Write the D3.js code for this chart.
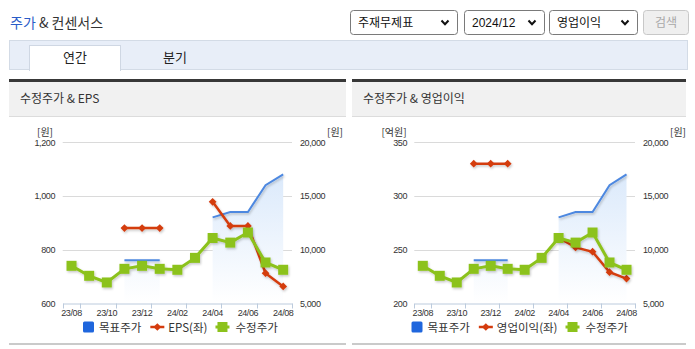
<!DOCTYPE html>
<html><head><meta charset="utf-8">
<script src="https://cdn.jsdelivr.net/npm/d3@7"></script>
<style>
html,body{margin:0;padding:0;background:#fff;}
svg{display:block;}
</style></head>
<body>
<svg id="c" width="695" height="349"></svg>
<script>
// ---- data ----
const months = ['23/08','23/09','23/10','23/11','23/12','24/01','24/02','24/03','24/04','24/05','24/06','24/07','24/08'];
const adjPrice = [8490, 7560, 6940, 8210, 8490, 8210, 8120, 9230, 11080, 10650, 11590, 8800, 8120];
const targetPrice = [null, null, null, 9000, 9000, 9000, null, null, 13000, 13500, 13500, 16000, 17000];
const eps = [null, null, null, 880, 880, 880, null, null, 978, 888, 888, 712, 663];
const opProfit = [null, null, null, 330, 330, 330, null, null, 261, 252, 248, 229, 223];
const epsTicks = [600, 800, 1000, 1200];
const opTicks = [200, 250, 300, 350];
const priceTicks = [5000, 10000, 15000, 20000];
const xTickLabels = ['23/08','23/10','23/12','24/02','24/04','24/06','24/08'];

const KR = '"Noto Sans CJK KR", "Noto Sans", sans-serif';
const NUM = '"Liberation Sans", Arial, sans-serif';
const C_BLUE = '#4d88e0', C_BLUE_SQ = '#1f66dd', C_RED = '#d43c0e', C_GREEN = '#8cc21c';

const svg = d3.select('#c');
const defs = svg.append('defs');

const grad = defs.append('linearGradient').attr('id', 'tpArea')
  .attr('gradientUnits', 'userSpaceOnUse').attr('x1', 0).attr('x2', 0).attr('y1', 142).attr('y2', 303);
grad.append('stop').attr('offset', 0).attr('stop-color', '#d2e4fa');
grad.append('stop').attr('offset', 1).attr('stop-color', '#ffffff');

const sh = defs.append('filter').attr('id', 'shadow').attr('x', '-10%').attr('y', '-10%').attr('width', '130%').attr('height', '140%');
sh.append('feDropShadow').attr('dx', 1).attr('dy', 1.5).attr('stdDeviation', 1).attr('flood-color', '#000').attr('flood-opacity', 0.22);

// red point marker: a small diamond (square turned 45 degrees)
const diamond = d3.symbol(d3.symbolSquare, 30);

// ---- page title ----
const title = svg.append('text').attr('x', 10).attr('y', 28).style('font-family', KR).style('font-size', '14px');
title.append('tspan').attr('fill', '#2a5cc8').text('주가');
title.append('tspan').attr('fill', '#333').text(' & 컨센서스');

// ---- select boxes ----
function selectBox(x, w, label, disabled) {
  const g = svg.append('g');
  g.append('rect').attr('x', x + 0.5).attr('y', 10.5).attr('width', w).attr('height', 24).attr('rx', 3)
    .attr('fill', disabled ? '#efefef' : '#fff').attr('stroke', disabled ? '#c8c8c8' : '#7a7a7a');
  if (disabled) {
    g.append('text').attr('x', x + w / 2 + 0.5).attr('y', 27).attr('text-anchor', 'middle')
      .style('font-family', KR).style('font-size', '12px').attr('fill', '#a8a8a8').text(label);
  } else {
    g.append('text').attr('x', x + 8).attr('y', 27)
      .style('font-family', label.match(/^\d/) ? NUM : KR).style('font-size', '12px').attr('fill', '#111').text(label);
    const cx = x + w - 12, cy = 22.5;
    g.append('path').attr('d', `M${cx - 3.5},${cy - 2}L${cx},${cy + 1.8}L${cx + 3.5},${cy - 2}`)
      .attr('fill', 'none').attr('stroke', '#111').attr('stroke-width', 2);
  }
}
selectBox(350, 107, '주재무제표');
selectBox(464, 80, '2024/12');
selectBox(549, 88, '영업이익');
selectBox(643, 45, '검색', true);

// ---- tab bar ----
svg.append('rect').attr('x', 9.5).attr('y', 40.5).attr('width', 678).attr('height', 29)
  .attr('fill', '#e8eef8').attr('stroke', '#d3dbe6');
svg.append('rect').attr('x', 29.5).attr('y', 45.5).attr('width', 91).attr('height', 25)
  .attr('fill', '#fff').attr('stroke', '#cfd7e3');
svg.append('rect').attr('x', 30).attr('y', 68).attr('width', 90).attr('height', 3).attr('fill', '#fff');
svg.append('text').attr('x', 75).attr('y', 62).attr('text-anchor', 'middle')
  .style('font-family', KR).style('font-size', '13px').attr('fill', '#222').text('연간');
svg.append('text').attr('x', 175).attr('y', 62).attr('text-anchor', 'middle')
  .style('font-family', KR).style('font-size', '13px').attr('fill', '#222').text('분기');

// ---- chart panels ----
function drawChart(cfg) {
  const g = svg.append('g');
  // panel frame
  g.append('rect').attr('x', cfg.px0).attr('y', 80).attr('width', cfg.px1 - cfg.px0).attr('height', 37).attr('fill', '#f1f1f1');
  g.append('rect').attr('x', cfg.px0).attr('y', 79).attr('width', cfg.px1 - cfg.px0).attr('height', 3).attr('fill', '#383838');
  g.append('rect').attr('x', cfg.px0).attr('y', 116).attr('width', cfg.px1 - cfg.px0).attr('height', 1).attr('fill', '#dcdcdc');
  g.append('rect').attr('x', cfg.px0).attr('y', 343).attr('width', cfg.px1 - cfg.px0).attr('height', 2).attr('fill', '#cacaca');
  g.append('text').attr('x', cfg.px0 + 11).attr('y', 102.5).style('font-family', KR).style('font-size', '12px')
    .attr('fill', '#333').text(cfg.title);

  const x = d3.scaleBand().domain(months).range([cfg.x0, cfg.x1]).padding(0);
  const cx = m => x(m) + x.bandwidth() / 2;
  const yL = d3.scaleLinear().domain([cfg.leftTicks[0], cfg.leftTicks[cfg.leftTicks.length - 1]]).range([303.3, 142.2]);
  const yR = d3.scaleLinear().domain([priceTicks[0], priceTicks[priceTicks.length - 1]]).range([303.3, 142.2]);

  // gridlines
  g.append('g').selectAll('line').data(cfg.leftTicks.slice(1)).join('line')
    .attr('x1', cfg.x0).attr('x2', cfg.x1).attr('y1', d => Math.round(yL(d)) + 0.5).attr('y2', d => Math.round(yL(d)) + 0.5)
    .attr('stroke', '#dadada');

  // y axes
  const axL = g.append('g').attr('transform', `translate(${cfg.labL},0)`)
    .call(d3.axisLeft(yL).tickValues(cfg.leftTicks).tickSize(0).tickPadding(0).tickFormat(d3.format(',')));
  const axR = g.append('g').attr('transform', `translate(${cfg.labR},0)`)
    .call(d3.axisRight(yR).tickValues(priceTicks).tickSize(0).tickPadding(0).tickFormat(d3.format(',')));
  [axL, axR].forEach(a => {
    a.select('.domain').remove();
    a.selectAll('text').style('font-family', NUM).style('font-size', '9px').style('letter-spacing', '-0.4px').attr('fill', '#333');
  });
  g.append('text').attr('x', cfg.unitLx).attr('y', 135.5).attr('text-anchor', 'middle')
    .style('font-family', KR).style('font-size', '10px').attr('fill', '#333').text(cfg.unitL);
  g.append('text').attr('x', cfg.unitRx).attr('y', 135.5).attr('text-anchor', 'middle')
    .style('font-family', KR).style('font-size', '10px').attr('fill', '#333').text('[원]');

  // x axis
  const axX = g.append('g').attr('transform', 'translate(0,303.5)')
    .call(d3.axisBottom(x).tickValues(xTickLabels).tickSize(0).tickSizeOuter(0).tickPadding(6));
  axX.select('.domain').attr('stroke', '#bccbdd');
  axX.selectAll('text').style('font-family', NUM).style('font-size', '9px').style('letter-spacing', '-0.4px').attr('fill', '#333');
  const tickXs = [cfg.x0].concat(xTickLabels.map(m => x(m) + x.bandwidth()));
  axX.append('g').selectAll('line').data(tickXs).join('line')
    .attr('x1', d => Math.round(d) + 0.5).attr('x2', d => Math.round(d) + 0.5).attr('y1', 0).attr('y2', 5)
    .attr('stroke', '#bccbdd');

  const tp = months.map((m, i) => ({ m, v: targetPrice[i] }));
  const lv = months.map((m, i) => ({ m, v: cfg.leftValues[i] }));
  const pr = months.map((m, i) => ({ m, v: adjPrice[i] }));

  // target price area + line
  g.append('path').datum(tp)
    .attr('d', d3.area().defined(d => d.v != null).x(d => cx(d.m)).y0(yR(priceTicks[0]) - 1).y1(d => yR(d.v)))
    .attr('fill', 'url(#tpArea)');
  g.append('path').datum(tp)
    .attr('d', d3.line().defined(d => d.v != null).x(d => cx(d.m)).y(d => yR(d.v)))
    .attr('fill', 'none').attr('stroke', C_BLUE).attr('stroke-width', 2).attr('filter', 'url(#shadow)');

  // consensus series (left axis)
  const red = g.append('g').attr('filter', 'url(#shadow)');
  red.append('path').datum(lv)
    .attr('d', d3.line().defined(d => d.v != null).x(d => cx(d.m)).y(d => yL(d.v)))
    .attr('fill', 'none').attr('stroke', C_RED).attr('stroke-width', 2.5);
  red.selectAll('path.pt').data(lv.filter(d => d.v != null)).join('path').attr('class', 'pt')
    .attr('transform', d => `translate(${cx(d.m)},${yL(d.v)}) rotate(45)`)
    .attr('d', diamond).attr('fill', C_RED);

  // adjusted price (right axis)
  const gr = g.append('g').attr('filter', 'url(#shadow)');
  gr.append('path').datum(pr)
    .attr('d', d3.line().x(d => cx(d.m)).y(d => yR(d.v)))
    .attr('fill', 'none').attr('stroke', C_GREEN).attr('stroke-width', 3);
  gr.selectAll('rect').data(pr).join('rect')
    .attr('x', d => cx(d.m) - 5).attr('y', d => yR(d.v) - 5).attr('width', 10).attr('height', 10)
    .attr('fill', C_GREEN);

  // legend
  const lg = g.append('g').style('font-family', KR).style('font-size', '11.5px').attr('fill', '#333');
  let lx = cfg.legX;
  const ly = 327;
  lg.append('rect').attr('x', lx).attr('y', ly - 5.5).attr('width', 11).attr('height', 11).attr('rx', 1.5).attr('fill', C_BLUE_SQ);
  lx += 16;
  let t = lg.append('text').attr('x', lx).attr('y', ly + 4.5).text('목표주가');
  lx += t.node().getComputedTextLength() + 9;
  lg.append('line').attr('x1', lx).attr('x2', lx + 14).attr('y1', ly).attr('y2', ly).attr('stroke', C_RED).attr('stroke-width', 2.5);
  lg.append('path').attr('transform', `translate(${lx + 7},${ly}) rotate(45)`).attr('d', diamond).attr('fill', C_RED);
  lx += 18;
  t = lg.append('text').attr('x', lx).attr('y', ly + 4.5).text(cfg.leftName);
  lx += t.node().getComputedTextLength() + 8;
  lg.append('line').attr('x1', lx).attr('x2', lx + 14).attr('y1', ly).attr('y2', ly).attr('stroke', C_GREEN).attr('stroke-width', 3);
  lg.append('rect').attr('x', lx + 2).attr('y', ly - 5).attr('width', 10).attr('height', 10).attr('fill', C_GREEN);
  lx += 20;
  lg.append('text').attr('x', lx).attr('y', ly + 4.5).text('수정주가');
}

drawChart({
  title: '수정주가 & EPS', px0: 9, px1: 346, x0: 62.7, x1: 292,
  labL: 55, labR: 300, unitL: '[원]', unitLx: 45, unitRx: 335,
  leftTicks: epsTicks, leftValues: eps, leftName: 'EPS(좌)', legX: 83
});
drawChart({
  title: '수정주가 & 영업이익', px0: 352, px1: 686, x0: 414.3, x1: 635,
  labL: 407, labR: 643, unitL: '[억원]', unitLx: 394, unitRx: 678,
  leftTicks: opTicks, leftValues: opProfit, leftName: '영업이익(좌)', legX: 411.5
});
</script>
</body></html>
